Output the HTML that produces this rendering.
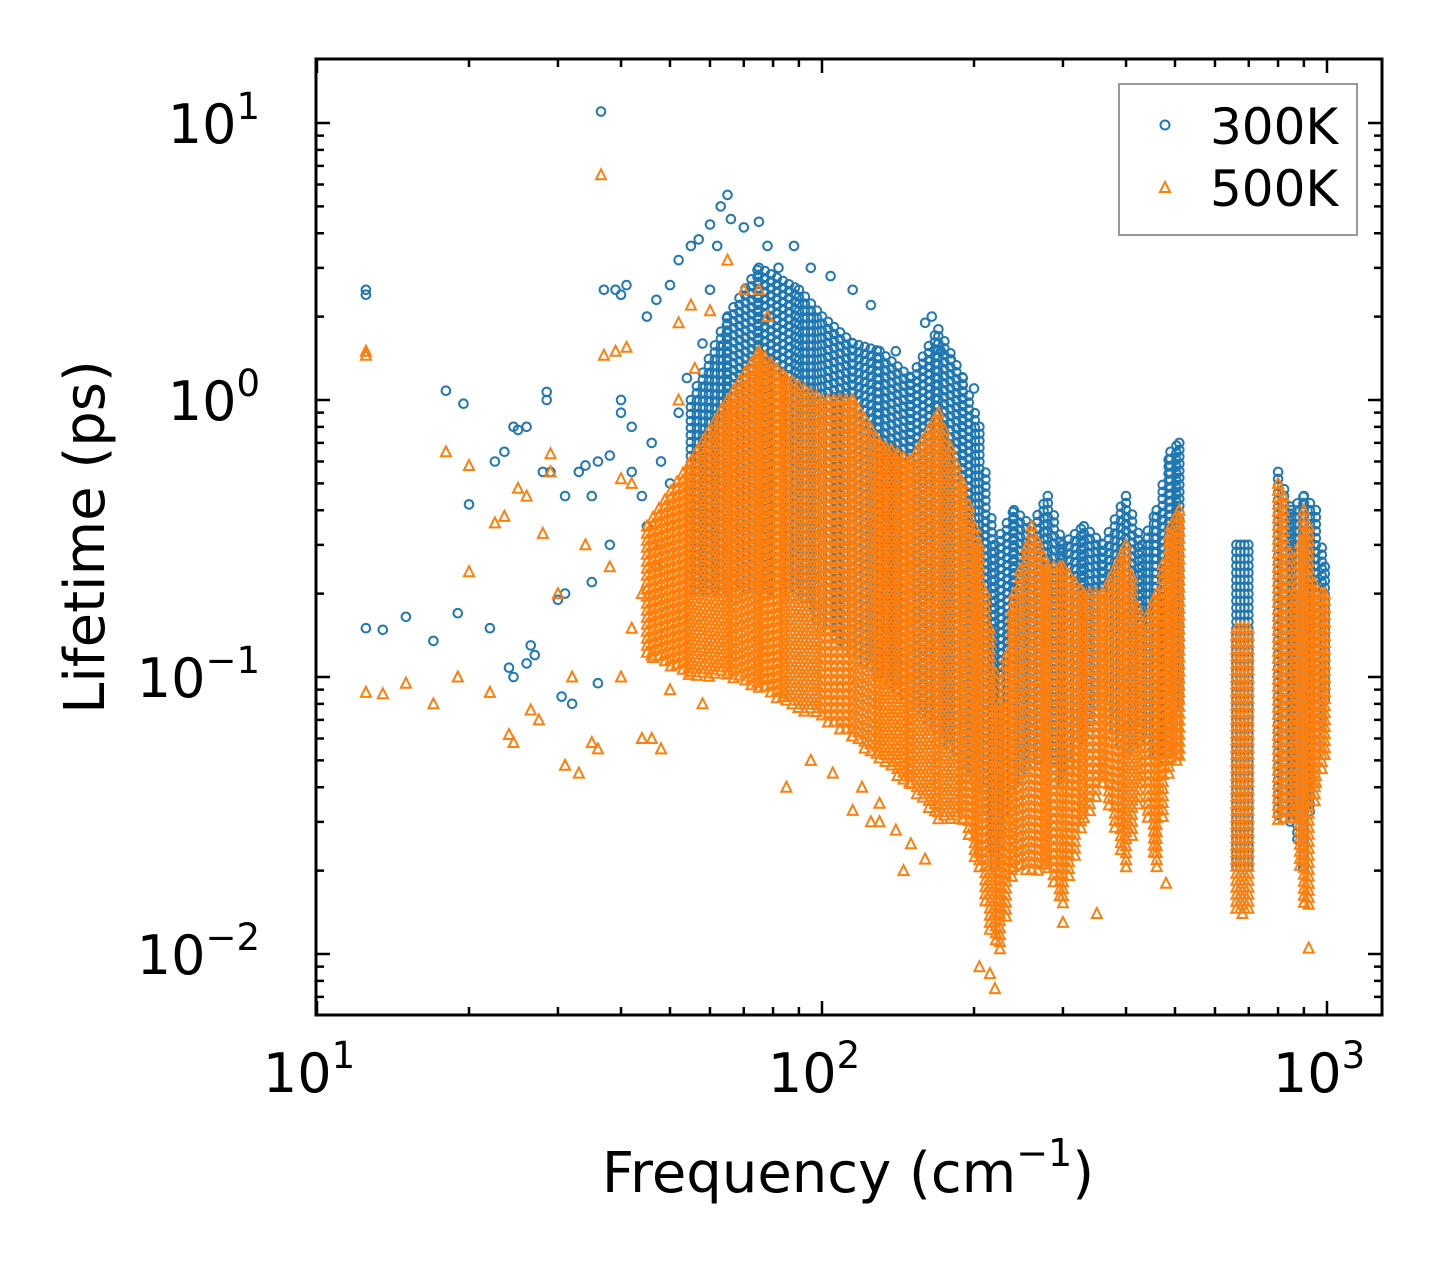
<!DOCTYPE html>
<html><head><meta charset="utf-8">
<style>
html,body{margin:0;padding:0;background:#fff;}
svg{display:block;font-family:"DejaVu Sans","Liberation Sans",sans-serif;}
</style></head>
<body>
<svg id="chart" width="1442" height="1265" viewBox="0 0 1442 1265" xmlns="http://www.w3.org/2000/svg">
<rect width="1442" height="1265" fill="#fff"/>
<g id="marks"></g>
<g id="axes"></g>
<text x="848" y="1192" font-size="56" text-anchor="middle">Frequency (cm<tspan font-size="38" dy="-26">−1</tspan><tspan dy="26">)</tspan></text>
<text transform="translate(104,537) rotate(-90)" font-size="56" text-anchor="middle">Lifetime (ps)</text>
<g>
<rect x="1119" y="84" width="238" height="151" fill="#fff" stroke="#999" stroke-width="2"/>
<circle cx="1165" cy="125" r="4.5" fill="none" stroke="#1f77b4" stroke-width="2"/>
<text x="1210" y="144" font-size="50">300K</text>
<polygon points="1165,182 1170,192 1160,192" fill="none" stroke="#ff7f0e" stroke-width="2"/>
<text x="1210" y="206" font-size="50">500K</text>
</g>
</svg>
<script>
// ---- data ----
const blueIso = [[12.5,2.5],[12.5,2.4],[18,1.08],[19.5,0.97],[12.5,0.15],[13.5,0.148],[15,0.165],[17,0.135],[19,0.17],[20,0.42],[22,0.15],[22.5,0.6],[23.5,0.65],[24.5,0.8],[25,0.78],[26,0.8],[24,0.108],[24.5,0.1],[26,0.112],[26.5,0.13],[27,0.12],[28,0.55],[28.5,1.07],[28.5,1.0],[29,0.55],[30,0.19],[31,0.2],[31,0.45],[30.5,0.085],[32,0.08],[33,0.55],[34,0.58],[35,0.45],[36,0.6],[36,0.095],[36.5,11],[37,2.5],[38,0.63],[39,2.5],[40,2.4],[40,1.0],[40,0.9],[41,2.6],[42,0.8],[45,2.0],[47,2.3],[50,2.6],[52,3.2],[55,3.6],[57,3.8],[60,4.3],[63,5.0],[65,5.5],[62,3.6],[66,4.5],[70,4.2],[75,4.4],[78,3.6],[82,3.0],[88,3.6],[95,3.0],[104,2.8],[115,2.5],[125,2.2],[140,1.5],[160,1.9],[165,2.0],[172,1.5],[180,1.4],[200,1.1],[205,0.8],[42,0.55],[44,0.45],[46,0.7],[35,0.22],[38,0.3],[48,0.3],[50,0.5],[45,0.35],[47,0.25],[52,0.9],[54,1.2],[58,1.6],[60,2.5],[48,0.6]];
const orangeIso = [[12.5,1.5],[12.5,1.45],[18,0.65],[20,0.58],[20,0.24],[12.5,0.088],[13.5,0.087],[15,0.095],[17,0.08],[19,0.1],[22,0.088],[22.5,0.36],[23.5,0.38],[24,0.062],[24.5,0.058],[25,0.48],[26,0.45],[26.5,0.076],[27.5,0.07],[28,0.33],[29,0.64],[29,0.55],[30,0.2],[31,0.048],[32,0.1],[33,0.045],[34,0.3],[35,0.058],[36,0.055],[36.5,6.5],[37,1.45],[39,1.5],[41,1.55],[40,0.52],[42,0.5],[44,0.06],[46,0.06],[48,0.055],[50,0.09],[52,1.9],[55,2.2],[60,2.1],[65,3.2],[70,2.5],[75,2.5],[78,2.0],[85,0.04],[95,0.05],[105,0.045],[120,0.04],[130,0.035],[140,0.028],[150,0.025],[160,0.022],[130,0.03],[205,0.009],[215,0.0085],[220,0.0075],[680,0.014],[920,0.0105],[480,0.018],[350,0.014],[300,0.013],[115,0.033],[125,0.03],[145,0.02],[38,0.25],[44,0.2],[46,0.12],[40,0.1],[42,0.15],[52,1.0],[56,1.3],[58,0.08]];
const blueColFreq = [55,65,75,90,100,115,130,150,170,190,205,220,240,260,280,300,330,360,400,430,460,490,510,680,800,850,900,950,990];
const blueColLo   = [0.2,0.2,0.2,0.2,0.15,0.12,0.1,0.08,0.06,0.05,0.04,0.02,0.04,0.05,0.05,0.04,0.06,0.08,0.05,0.06,0.05,0.05,0.08,0.02,0.03,0.03,0.02,0.05,0.08];
const blueColHi   = [1.0,2.0,3.0,2.5,2.0,1.6,1.5,1.2,1.8,1.2,0.8,0.3,0.4,0.35,0.45,0.3,0.35,0.3,0.45,0.3,0.4,0.65,0.7,0.3,0.55,0.4,0.45,0.4,0.25];
const blueColGroup = [0,0,0,0,0,0,0,0,0,0,0,0,0,0,0,0,0,0,0,0,0,0,0,1,2,2,2,2,2];
const orangeColFreq = [45,55,65,75,85,100,115,130,150,170,190,205,215,225,240,260,280,300,330,360,400,430,460,490,510,680,800,820,860,900,920,950,990];
const orangeColLo   = [0.12,0.1,0.1,0.09,0.08,0.07,0.06,0.05,0.04,0.03,0.03,0.02,0.012,0.01,0.02,0.02,0.02,0.015,0.03,0.04,0.02,0.04,0.02,0.05,0.05,0.014,0.03,0.03,0.03,0.015,0.015,0.04,0.05];
const orangeColHi   = [0.35,0.6,1.0,1.5,1.2,1.0,1.0,0.7,0.6,0.9,0.5,0.3,0.15,0.08,0.2,0.35,0.25,0.25,0.2,0.2,0.3,0.15,0.2,0.35,0.4,0.15,0.5,0.45,0.2,0.4,0.35,0.2,0.2];
const orangeColGroup = [0,0,0,0,0,0,0,0,0,0,0,0,0,0,0,0,0,0,0,0,0,0,0,0,0,1,2,2,2,2,2,2,2];
const xTicks = [10,100,1000];
const xTickExp = ["1","2","3"];
const yTicks = [10,1,0.1,0.01];
const yTickExp = ["1","0","−1","−2"];

// ---- axes ----
const L=316,R=1382,T=59,B=1015;
const X = f => 317 + 505*Math.log10(f/10);
const Y = v => 400 - 277*Math.log10(v);
const NS="http://www.w3.org/2000/svg";
const marks=document.getElementById('marks'), axes=document.getElementById('axes');

function circ(x,y){return `M${(x+4.3).toFixed(1)},${y.toFixed(1)}a4.3,4.3 0 1,0 -8.6,0a4.3,4.3 0 1,0 8.6,0`;}
function tri(x,y){return `M${x.toFixed(1)},${(y-5.5).toFixed(1)}l5,10l-10,0z`;}

function build(iso,cf,lo,hi,grp,fn){
  let d=[];
  iso.forEach(p=>d.push(fn(X(p[0]),Y(p[1]))));
  const col=(x,l,h)=>{for(let y=Y(h);y<=Y(l);y+=7)d.push(fn(x,y));};
  for(let i=0;i<cf.length;i++){
    const x0=X(cf[i]);
    if(i+1<cf.length && grp[i+1]===grp[i]){
      const x1=X(cf[i+1]);
      for(let x=x0;x<x1;x+=6){
        const t=(x-x0)/(x1-x0);
        const l=Math.pow(10,(1-t)*Math.log10(lo[i])+t*Math.log10(lo[i+1]));
        const h=Math.pow(10,(1-t)*Math.log10(hi[i])+t*Math.log10(hi[i+1]));
        col(x,l,h);
      }
      if(i+2>=cf.length || grp[i+2]!==grp[i]) col(x1,lo[i+1],hi[i+1]);
    } else if(i===0 || grp[i-1]!==grp[i]) {
      for(let x=x0-6;x<=x0+6;x+=4) col(x,lo[i],hi[i]);
    }
  }
  return d.join('');
}
const pb=document.createElementNS(NS,'path');
pb.setAttribute('d',build(blueIso,blueColFreq,blueColLo,blueColHi,blueColGroup,circ));
pb.setAttribute('fill','none');pb.setAttribute('stroke','#1f77b4');pb.setAttribute('stroke-width','2');


marks.appendChild(pb);
const po=document.createElementNS(NS,'path');
po.setAttribute('d',build(orangeIso,orangeColFreq,orangeColLo,orangeColHi,orangeColGroup,tri));
po.setAttribute('fill','none');po.setAttribute('stroke','#ff7f0e');po.setAttribute('stroke-width','2');


marks.appendChild(po);

let a=`<rect x="${L}" y="${T}" width="${R-L}" height="${B-T}" fill="none" stroke="#000" stroke-width="3"/>`;
let tk='';
for(let dec=1;dec<=1000;dec*=10){for(let m=1;m<10;m++){const f=dec*m;const x=X(f);if(x<L||x>R)continue;const len=m===1?14:8;tk+=`M${x},${B}v${-len}M${x},${T}v${len}`;}}
for(let dec=0.001;dec<=10;dec*=10){for(let m=1;m<10;m++){const v=dec*m;const y=Y(v);if(y<T||y>B)continue;const len=m===1?14:8;tk+=`M${L},${y}h${len}M${R},${y}h${-len}`;}}
a+=`<path d="${tk}" stroke="#000" stroke-width="2.5"/>`;
axes.innerHTML=a;
xTicks.forEach((f,i)=>{const t=document.createElementNS(NS,'text');t.setAttribute('x',X(f)-8);t.setAttribute('y',1092);t.setAttribute('font-size','54');t.setAttribute('text-anchor','middle');
t.innerHTML=`10<tspan font-size="37" dy="-24">${xTickExp[i]}</tspan>`;


axes.appendChild(t);});
yTicks.forEach((v,i)=>{const t=document.createElementNS(NS,'text');t.setAttribute('x',260);t.setAttribute('y',Y(v)+20);t.setAttribute('font-size','54');t.setAttribute('text-anchor','end');
t.innerHTML=`10<tspan font-size="37" dy="-24">${yTickExp[i]}</tspan>`;


axes.appendChild(t);});
</script>
</body></html>
